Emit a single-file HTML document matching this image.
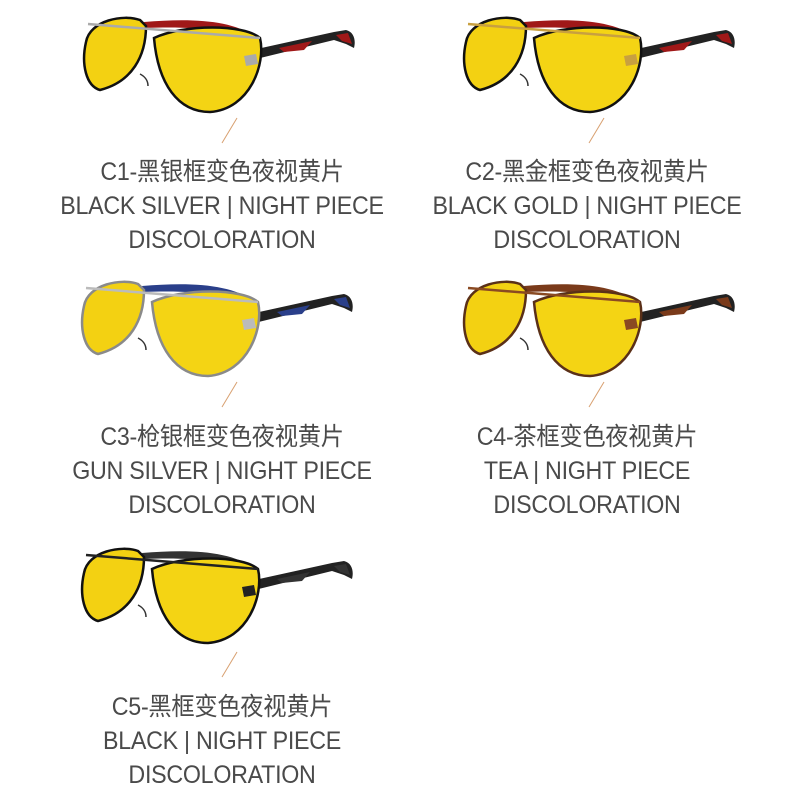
<!DOCTYPE html>
<html><head><meta charset="utf-8"><style>
body{margin:0;background:#fff;width:800px;height:800px;overflow:hidden;position:relative;font-family:"Liberation Sans","Noto Sans CJK SC",sans-serif;color:#4a4a4a}
svg{position:absolute;left:0;top:0}
.t{position:absolute;width:400px;text-align:center;font-size:25px;line-height:34px;letter-spacing:-0.3px;transform:scaleX(0.93)}
</style></head><body>
<svg width="800" height="800">
<defs>
<g id="gl">
<path d="M150,40 L250,18 L262,16 C270,18 272,26 270,34 L262,30 L250,26 L160,48Z" fill="#222"/>
<path d="M195,34 L228,27 L220,36 L200,38Z" fill="var(--a)"/>
<path d="M252,21 L264,19 L268,30 L258,27Z" fill="var(--a)"/>
<path d="M60,8 C110,4 150,6 175,25 L178,28 L170,30 C150,16 110,12 62,14Z" fill="var(--a)"/>
<path d="M2,28 C6,6 40,0 56,6 L62,12 C62,42 48,68 16,76 C2,72 -3,50 2,28Z" fill="#f3d112" stroke="var(--f)" stroke-width="2.5"/>
<path d="M70,24 C100,10 160,10 176,24 C182,50 166,95 126,98 C94,98 74,70 70,24Z" fill="#f4d414" stroke="var(--f)" stroke-width="2.5"/>
<path d="M4,10 L176,24" stroke="var(--b)" stroke-width="2.5" fill="none"/>
<path d="M56,60 C60,62 64,66 64,72" stroke="#333" stroke-width="1.5" fill="none"/>
<path d="M160,42 L172,40 L174,50 L162,52Z" fill="var(--b)"/>
</g>
</defs>
<use href="#gl" x="84" y="14" style="--f:#111;--a:#a01818;--b:#aaa"/>
<use href="#gl" x="464" y="14" style="--f:#111;--a:#a01818;--b:#c8a040"/>
<use href="#gl" x="82" y="278" style="--f:#8a8a8a;--a:#2a3f8a;--b:#bbb"/>
<use href="#gl" x="464" y="278" style="--f:#5a3018;--a:#7a3a1a;--b:#8a4a22"/>
<use href="#gl" x="82" y="545" style="--f:#111;--a:#333;--b:#222"/>
<g stroke="#d8a070" stroke-width="1">
<line x1="237" y1="118" x2="222" y2="143"/>
<line x1="604" y1="118" x2="589" y2="143"/>
<line x1="237" y1="382" x2="222" y2="407"/>
<line x1="604" y1="382" x2="589" y2="407"/>
<line x1="237" y1="652" x2="222" y2="677"/>
</g>
</svg>
<div class="t" style="left:22px;top:155px">C1-黑银框变色夜视黄片<br>BLACK SILVER | NIGHT PIECE<br>DISCOLORATION</div>
<div class="t" style="left:387px;top:155px">C2-黑金框变色夜视黄片<br>BLACK GOLD | NIGHT PIECE<br>DISCOLORATION</div>
<div class="t" style="left:22px;top:420px">C3-枪银框变色夜视黄片<br>GUN SILVER | NIGHT PIECE<br>DISCOLORATION</div>
<div class="t" style="left:387px;top:420px">C4-茶框变色夜视黄片<br>TEA | NIGHT PIECE<br>DISCOLORATION</div>
<div class="t" style="left:22px;top:690px">C5-黑框变色夜视黄片<br>BLACK | NIGHT PIECE<br>DISCOLORATION</div>
</body></html>
